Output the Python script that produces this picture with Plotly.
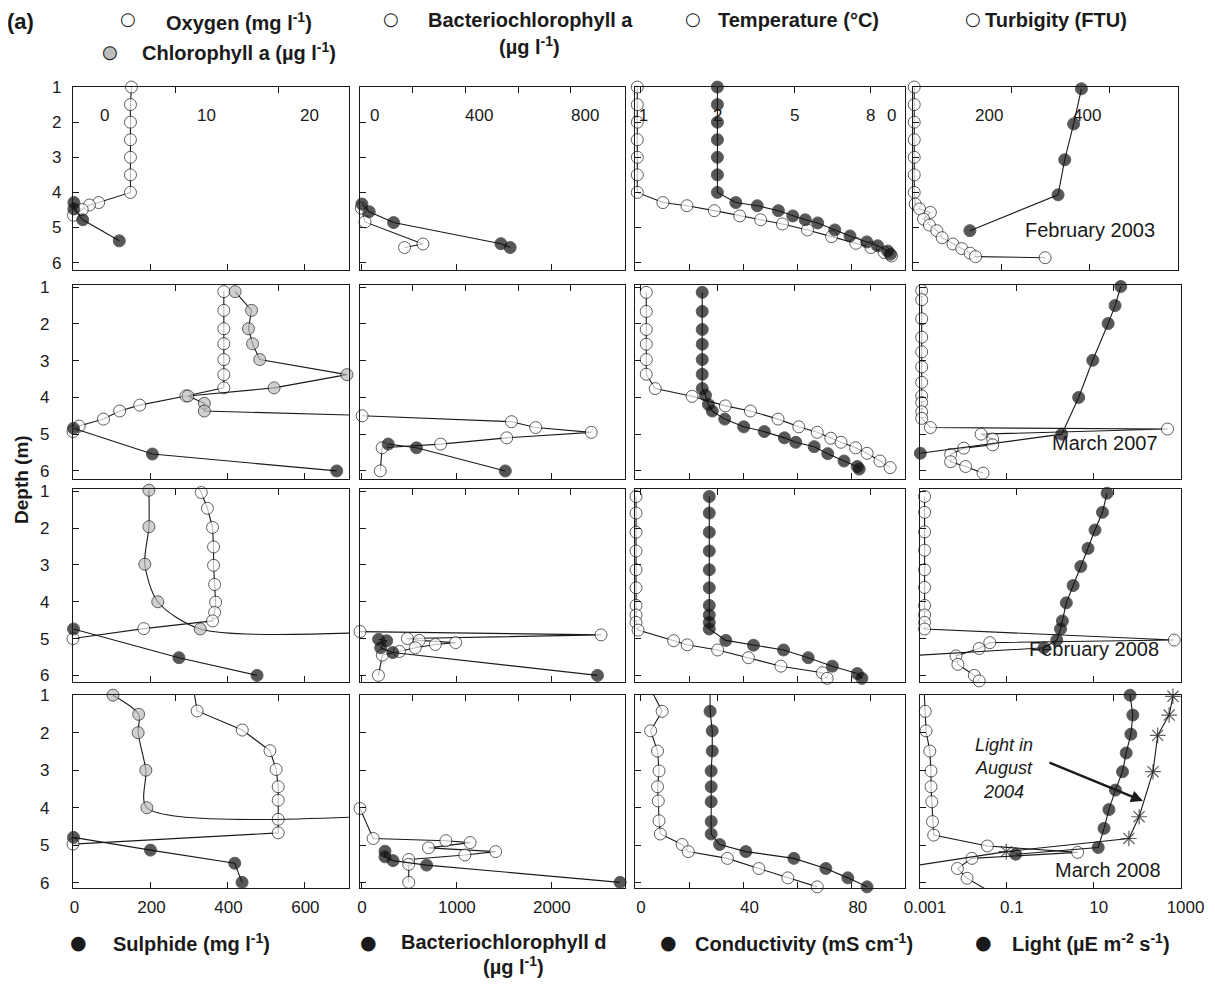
import math
import plotly.graph_objects as go

# page is rendered with an 8px body margin; keep the figure inside the window
OX, OY = 8, 8
FW, FH = 1199, 970

# ---------------- data (depth in m) ----------------
# February 2003
feb03_o2_depth = [1.0, 1.5, 2.0, 2.5, 3.0, 3.5, 4.0, 4.29, 4.36, 4.49, 4.65]
feb03_o2 = [5.7, 5.6, 5.6, 5.6, 5.6, 5.6, 5.6, 2.5, 1.6, 0.9, 0.05]
feb03_sulph_depth = [4.29, 4.47, 4.78, 5.38]
feb03_sulph = [1, 1, 24, 119]
feb03_bchla_depth = [4.45, 4.84, 5.47, 5.57]
feb03_bchla = [5, 19, 239, 169]
feb03_bchld_depth = [4.33, 4.55, 4.86, 5.46, 5.57]
feb03_bchld = [0, 77, 334, 1463, 1561]
feb03_temp_depth = [1.0, 1.5, 2.0, 2.5, 3.0, 3.5, 4.0, 4.29, 4.38, 4.52, 4.67, 4.78, 4.9, 5.07, 5.26, 5.45, 5.57, 5.71, 5.81]
feb03_temp = [-1.13, -1.13, -1.13, -1.13, -1.13, -1.13, -1.13, -0.13, 0.81, 1.88, 2.87, 3.69, 4.54, 5.52, 6.46, 7.41, 8.0, 8.52, 8.8]
feb03_cond_depth = [1.0, 1.5, 2.0, 2.5, 3.0, 3.5, 4.0, 4.29, 4.38, 4.52, 4.67, 4.78, 4.87, 5.07, 5.24, 5.41, 5.52, 5.67, 5.76]
feb03_cond = [30.4, 30.4, 30.4, 30.4, 30.4, 30.4, 30.4, 37.2, 45.1, 52.9, 58.2, 62.8, 67.4, 73.7, 79.3, 85.5, 89.5, 93.2, 94.2]
feb03_turb_depth = [1.0, 1.5, 2.0, 2.5, 3.0, 3.5, 4.0, 4.33, 4.47, 4.57, 4.76, 4.93, 5.09, 5.29, 5.47, 5.6, 5.73, 5.83, 5.86]
feb03_turb = [2, 2, 2, 2, 2, 2, 2, 4, 13, 35, 21, 33, 48, 59, 81, 99, 116, 127, 269]
feb03_light_depth = [1.05, 2.05, 3.07, 4.07, 5.09]
feb03_light = [6.6, 4.4, 2.76, 1.95, 0.0195]

# March 2007
mar07_o2_depth = [1.12, 1.63, 2.13, 2.54, 2.97, 3.38, 3.74, 3.96, 4.21, 4.37, 4.59, 4.78, 4.93]
mar07_o2 = [14.7, 14.7, 14.7, 14.7, 14.7, 14.7, 14.7, 11.0, 6.5, 4.55, 2.97, 0.6, 0.0]
mar07_chla_depth = [1.12, 1.63, 2.13, 2.54, 2.97, 3.38, 3.74, 3.96, 4.16, 4.37, 4.5]
mar07_chla = [15.8, 17.4, 17.1, 17.5, 18.2, 26.7, 19.6, 11.2, 12.8, 12.8, 30.0]
mar07_sulph_depth = [4.84, 5.54, 6.0]
mar07_sulph = [0, 205, 684]
mar07_bchla_depth = [4.5, 4.66, 4.82, 4.95, 5.1, 5.27, 5.37, 6.0]
mar07_bchla = [8, 575, 667, 878, 557, 306, 84, 77]
mar07_bchld_depth = [5.27, 5.37, 6.0]
mar07_bchld = [277, 575, 1510]
mar07_temp_depth = [1.14, 1.66, 2.15, 2.55, 2.97, 3.37, 3.76, 3.97, 4.23, 4.37, 4.59, 4.8, 4.95, 5.11, 5.22, 5.37, 5.52, 5.73, 5.91]
mar07_temp = [-0.78, -0.78, -0.78, -0.78, -0.78, -0.78, -0.43, 1.01, 2.31, 3.29, 4.37, 5.18, 5.9, 6.43, 6.83, 7.4, 7.85, 8.35, 8.75]
mar07_cond_depth = [1.14, 1.66, 2.15, 2.55, 2.97, 3.37, 3.76, 3.94, 4.19, 4.37, 4.59, 4.8, 4.93, 5.1, 5.22, 5.34, 5.53, 5.73, 5.88, 5.95]
mar07_cond = [24.8, 24.8, 24.8, 24.8, 24.8, 24.8, 24.8, 26.0, 27.1, 28.5, 33.1, 40.1, 47.7, 55.1, 59.3, 66.1, 71.1, 77.1, 82.0, 82.7]
mar07_turb_depth = [1.09, 1.34, 1.86, 2.36, 2.76, 3.17, 3.59, 3.96, 4.14, 4.39, 4.57, 4.82, 4.86, 5.0, 5.13, 5.29, 5.38, 5.55, 5.75, 5.88, 6.06]
mar07_turb = [3, 3, 3, 3, 3, 3, 3, 3, 3, 3, 3, 21, 512, 126, 150, 150, 90, 63, 63, 94, 130]
mar07_light_depth = [0.98, 1.5, 1.99, 2.99, 4.0, 5.0, 5.52]
mar07_light = [42, 31, 21.5, 9.5, 4.5, 1.84, 0.00102]

# February 2008
feb08_o2_depth = [0.8, 1.03, 1.46, 1.98, 2.51, 3.01, 3.53, 4.01, 4.29, 4.52, 4.73, 5.0]
feb08_o2 = [12.0, 12.5, 13.1, 13.6, 13.7, 13.7, 13.8, 13.9, 13.8, 13.6, 6.9, 0.0]
feb08_chla_depth = [0.97, 1.96, 2.98, 4.0, 4.74, 4.82]
feb08_chla = [7.4, 7.4, 7.0, 8.26, 12.4, 30.0]
feb08_sulph_depth = [4.74, 5.52, 6.0]
feb08_sulph = [0, 274, 477]
feb08_bchla_depth = [4.81, 4.9, 5.0, 5.05, 5.11, 5.16, 5.25, 5.35, 5.45, 6.0]
feb08_bchla = [0, 915, 180, 225, 363, 286, 210, 150, 85, 70]
feb08_bchld_depth = [5.02, 5.06, 5.25, 5.38, 6.0]
feb08_bchld = [176, 261, 198, 325, 2480]
feb08_temp_depth = [1.14, 1.59, 2.11, 2.62, 3.13, 3.62, 4.1, 4.36, 4.56, 4.77, 5.06, 5.17, 5.31, 5.52, 5.75, 5.93, 6.08]
feb08_temp = [-1.18, -1.18, -1.18, -1.18, -1.18, -1.18, -1.18, -1.18, -1.18, -1.1, 0.29, 0.82, 2.01, 3.21, 4.48, 6.1, 6.29]
feb08_cond_depth = [1.14, 1.59, 2.11, 2.62, 3.13, 3.62, 4.1, 4.36, 4.56, 4.74, 5.05, 5.18, 5.31, 5.52, 5.75, 5.95, 6.08]
feb08_cond = [27.4, 27.4, 27.4, 27.4, 27.4, 27.4, 27.4, 27.4, 27.4, 27.4, 33.5, 43.7, 54.8, 63.9, 72.8, 82.0, 83.7]
feb08_turb_depth = [1.14, 1.57, 2.1, 2.6, 3.13, 3.61, 4.1, 4.36, 4.56, 4.74, 5.04, 5.11, 5.27, 5.47, 5.7, 6.0, 6.15]
feb08_turb = [9, 9, 9, 9, 9, 9, 9, 9, 9, 9, 526, 144, 122, 74, 78, 112, 122]
feb08_light_depth = [1.05, 1.57, 2.05, 2.55, 3.04, 3.56, 4.03, 4.52, 4.74, 5.04, 5.25, 5.47]
feb08_light = [20.3, 15.9, 10.7, 7.4, 5.05, 3.36, 2.34, 1.9, 1.72, 1.41, 0.72, 0.0005]

# March 2008
mar08_o2_depth = [0.92, 1.42, 1.93, 2.48, 2.98, 3.44, 3.8, 4.31, 4.67, 4.97]
mar08_o2 = [11.8, 12.1, 16.5, 19.2, 19.8, 20.0, 20.0, 20.0, 20.0, 0.0]
mar08_chla_depth = [1.0, 1.51, 2.0, 3.0, 4.0, 4.24]
mar08_chla = [3.9, 6.4, 6.35, 7.1, 7.2, 28.0]
mar08_sulph_depth = [4.79, 5.13, 5.48, 5.99]
mar08_sulph = [0, 200, 419, 438]
mar08_bchla_depth = [4.02, 4.82, 4.88, 4.93, 5.07, 5.17, 5.26, 5.38, 5.51, 5.99]
mar08_bchla = [0, 50, 326, 418, 260, 515, 398, 185, 185, 185]
mar08_bchld_depth = [5.16, 5.31, 5.41, 5.53, 5.99]
mar08_bchld = [243, 243, 328, 681, 2718]
mar08_temp_depth = [0.85, 1.43, 1.95, 2.49, 3.02, 3.44, 3.82, 4.35, 4.7, 4.98, 5.17, 5.35, 5.62, 5.87, 6.11]
mar08_temp = [-0.6, -0.16, -0.61, -0.34, -0.28, -0.34, -0.31, -0.28, -0.23, 0.62, 0.86, 2.39, 3.62, 4.75, 5.9]
mar08_cond_depth = [0.85, 1.43, 1.95, 2.49, 3.02, 3.44, 3.84, 4.37, 4.7, 4.98, 5.17, 5.35, 5.62, 5.87, 6.11]
mar08_cond = [27.7, 27.7, 28.5, 28.5, 28.1, 28.1, 28.1, 28.1, 28.1, 31.2, 40.9, 58.6, 70.4, 78.5, 85.6]
mar08_turb_depth = [0.85, 1.43, 1.95, 2.49, 3.02, 3.44, 3.84, 4.37, 4.73, 5.02, 5.19, 5.35, 5.62, 5.88, 6.15]
mar08_turb = [8, 10.4, 12, 19.8, 22.3, 22.3, 24, 25.4, 27.9, 139, 326, 107, 77, 97, 133]
mar08_light_depth = [1.0, 1.53, 2.04, 2.54, 3.04, 3.53, 4.05, 4.55, 5.06, 5.24]
mar08_light = [68.7, 79.6, 71.8, 56, 46, 31.6, 22.4, 17.3, 12.7, 0.16]
aug04_light_depth = [1.03, 1.53, 2.07, 3.04, 4.24, 4.82, 5.17, 5.53]
aug04_light = [667, 545, 297, 232, 111, 64.6, 0.097, 0.00093]

month_labels = ["February 2003", "March 2007", "February 2008", "March 2008"]
depth_ticks = [1, 2, 3, 4, 5, 6]

top_tickvals = [[0, 10, 20], [0, 400, 800], [-1, 2, 5, 8], [0, 200, 400]]
top_ticktext = [["0", "10", "20"], ["0", "400", "800"], ["-1", "2", "5", "8"], ["0", "200", "400"]]
top_minor = [[], [200, 600], [], []]
bot_tickvals = [[0, 200, 400, 600], [0, 1000, 2000], [0, 40, 80], [0.001, 0.1, 10, 1000]]
bot_ticktext = [["0", "200", "400", "600"], ["0", "1000", "2000"], ["0", "40", "80"], ["0.001", "0.1", "10", "1000"]]
bot_minor = [[], [], [20, 60], []]

# ---------------- layout geometry (window pixels) ----------------
ROWS = [
    dict(top=86.7, bottom=270, dmin=0.99, dmax=6.21, ystand=7),
    dict(top=285, bottom=479, dmin=0.94, dmax=6.22, ystand=19),
    dict(top=489, bottom=682, dmin=0.936, dmax=6.18, ystand=19),
    dict(top=695, bottom=888, dmin=0.995, dmax=6.14, ystand=19),
]
COLS = [
    [(73, 349), (360, 625), (635, 905), (913, 1178)],
    [(73, 349), (360, 625), (635, 905), (920, 1181)],
    [(73, 349), (360, 625), (635, 905), (920, 1181)],
    [(73, 349), (360, 625), (635, 905), (920, 1181)],
]
TOP_RANGE = [[0, 26.9], [0, 1006], [-1.22, 9.33], [-0.5, 540]]
BOT_RANGE = [[-1.3, 716], [-20, 2770], [0, 99.6], [-3, 3.01]]
BOT_LOG = [False, False, False, True]
TOP_SHIFT = [31, 14, 0, -22]
BOT_SHIFT = [1, 0, 6, 5]

data_rows = [
    {0: [("top", feb03_o2_depth, feb03_o2, "white"), ("bot", feb03_sulph_depth, feb03_sulph, "black")],
     1: [("top", feb03_bchla_depth, feb03_bchla, "white"), ("bot", feb03_bchld_depth, feb03_bchld, "black")],
     2: [("top", feb03_temp_depth, feb03_temp, "white"), ("bot", feb03_cond_depth, feb03_cond, "black")],
     3: [("top", feb03_turb_depth, feb03_turb, "white"), ("bot", feb03_light_depth, feb03_light, "black")]},
    {0: [("top", mar07_o2_depth, mar07_o2, "white"), ("top", mar07_chla_depth, mar07_chla, "gray"),
         ("bot", mar07_sulph_depth, mar07_sulph, "black")],
     1: [("top", mar07_bchla_depth, mar07_bchla, "white"), ("bot", mar07_bchld_depth, mar07_bchld, "black")],
     2: [("top", mar07_temp_depth, mar07_temp, "white"), ("bot", mar07_cond_depth, mar07_cond, "black")],
     3: [("top", mar07_turb_depth, mar07_turb, "white"), ("bot", mar07_light_depth, mar07_light, "black")]},
    {0: [("top", feb08_o2_depth, feb08_o2, "white"), ("top", feb08_chla_depth, feb08_chla, "gray"),
         ("bot", feb08_sulph_depth, feb08_sulph, "black")],
     1: [("top", feb08_bchla_depth, feb08_bchla, "white"), ("bot", feb08_bchld_depth, feb08_bchld, "black")],
     2: [("top", feb08_temp_depth, feb08_temp, "white"), ("bot", feb08_cond_depth, feb08_cond, "black")],
     3: [("top", feb08_turb_depth, feb08_turb, "white"), ("bot", feb08_light_depth, feb08_light, "black")]},
    {0: [("top", mar08_o2_depth, mar08_o2, "white"), ("top", mar08_chla_depth, mar08_chla, "gray"),
         ("bot", mar08_sulph_depth, mar08_sulph, "black")],
     1: [("top", mar08_bchla_depth, mar08_bchla, "white"), ("bot", mar08_bchld_depth, mar08_bchld, "black")],
     2: [("top", mar08_temp_depth, mar08_temp, "white"), ("bot", mar08_cond_depth, mar08_cond, "black")],
     3: [("top", mar08_turb_depth, mar08_turb, "white"), ("bot", mar08_light_depth, mar08_light, "black"),
         ("bot", aug04_light_depth, aug04_light, "star")]},
]

INK = "#1a1a1a"
REG = "Liberation Sans, Arial, sans-serif"
TICKFONT = dict(family=REG, size=17, color=INK)
BOLD = "Liberation Sans, Arial, sans-serif"

fig = go.Figure()
layout = {}
annotations = []


def px_x(v):
    return (v - OX) / FW


def px_y(v):
    return 1 - (v - OY) / FH


def text(x, y, t, size=21, bold=True, anchor="left", color=INK, italic=False, fam=None, angle=0,
         vanchor="middle"):
    s = f"<i>{t}</i>" if italic else t
    annotations.append(dict(xref="paper", yref="paper", x=px_x(x), y=px_y(y), text=s, showarrow=False,
                            xanchor=anchor, yanchor=vanchor, textangle=angle, borderpad=0,
                            font=dict(family=fam or BOLD, size=size, color=color,
                                      weight="bold" if bold else "normal")))


def minor_ticks(vals):
    if not vals:
        return dict(ticks="")
    return dict(tickmode="array", tickvals=vals, ticks="inside", ticklen=6, tickwidth=1, tickcolor=INK)


for r, row in enumerate(ROWS):
    for c in range(4):
        k = r * 4 + c
        xt = 2 * k + 1          # top axis (base)
        xb = 2 * k + 2          # bottom axis (overlay, drawn above)
        yk = k + 1
        x0, x1 = COLS[r][c]
        dom_x = [px_x(x0), px_x(x1)]
        dom_y = [px_y(row["bottom"]), px_y(row["top"])]
        common = dict(showgrid=False, zeroline=False, showline=True, linecolor=INK, linewidth=1.3,
                      ticks="inside", ticklen=6, tickwidth=1, tickcolor=INK, tickfont=TICKFONT,
                      tickmode="array", automargin=False)
        top_ax = dict(common, domain=dom_x, anchor=f"y{yk}", side="top", range=TOP_RANGE[c],
                      tickvals=top_tickvals[c], ticktext=top_ticktext[c], showticklabels=False,
                      minor=minor_ticks(top_minor[c]))
        bot_ax = dict(common, anchor=f"y{yk}", side="bottom", overlaying=f"x{xt}",
                      range=BOT_RANGE[c], type="log" if BOT_LOG[c] else "linear",
                      tickvals=bot_tickvals[c], ticktext=bot_ticktext[c],
                      showticklabels=(r == 3), ticklabelshift=BOT_SHIFT[c], ticklabelstandoff=3,
                      ticklabeloverflow="allow", minor=minor_ticks(bot_minor[c]))
        y_ax = dict(common, domain=dom_y, anchor=f"x{xt}", range=[row["dmax"], row["dmin"]],
                    tickvals=depth_ticks, ticktext=[str(t) for t in depth_ticks],
                    showticklabels=(c == 0), mirror=True, ticklabelstandoff=row["ystand"])
        layout[f"xaxis{xt}"] = top_ax
        layout[f"xaxis{xb}"] = bot_ax
        layout[f"yaxis{yk}"] = y_ax

        # top-axis tick labels of the first row are printed inside the panel
        if r == 0:
            lo, hi = TOP_RANGE[c]
            for v, t in zip(top_tickvals[c], top_ticktext[c]):
                xp = x0 + (v - lo) / (hi - lo) * (x1 - x0) + TOP_SHIFT[c]
                text(xp, 115, t, size=17, bold=False, anchor="center", fam=REG)

        for side, depth, vals, kind in data_rows[r][c]:
            rng = TOP_RANGE[c] if side == "top" else BOT_RANGE[c]
            logx = (side == "bot" and BOT_LOG[c])
            sizes = []
            for d, v in zip(depth, vals):
                xv = math.log10(v) if logx else v
                ok = rng[0] <= xv <= rng[1] and row["dmin"] - 0.01 <= d <= row["dmax"]
                sizes.append((13 if kind == "star" else 12) if ok else 0)
            if kind == "star":
                marker = dict(symbol="asterisk-open", size=sizes, line=dict(color=INK, width=1.2))
            else:
                fill = {"white": "#ffffff", "gray": "#bdbdbd", "black": "#111111"}[kind]
                marker = dict(symbol="circle", size=sizes, color=fill, line=dict(color=INK, width=1))
            shape = "spline" if (kind == "gray" and r >= 2) else "linear"
            fig.add_trace(go.Scatter(
                x=vals, y=depth, mode="lines+markers",
                xaxis=f"x{xt if side == 'top' else xb}", yaxis=f"y{yk}",
                line=dict(color=INK, width=1.1, shape=shape, smoothing=0.8),
                marker=marker, cliponaxis=False, hoverinfo="skip"))

SYM = "DejaVu Sans, sans-serif"
text(20, 8, "(a)", size=22, anchor="center", vanchor="top")
# top legend
text(128, 19, "○", size=18, bold=False, anchor="center", fam=SYM)
text(165, 8, "Oxygen (mg l<sup>-1</sup>)", size=20, vanchor="top")
text(110, 52, "●", size=18, bold=False, anchor="center", color="#bdbdbd", fam=SYM)
text(110, 52, "○", size=18, bold=False, anchor="center", fam=SYM)
text(141, 52, "Chlorophyll a (µg l<sup>-1</sup>)", size=20)
text(391, 19, "○", size=18, bold=False, anchor="center", fam=SYM)
text(427, 8, "Bacteriochlorophyll a", size=20, vanchor="top")
text(529, 46, "(µg l<sup>-1</sup>)", size=20, anchor="center")
text(693, 19, "○", size=18, bold=False, anchor="center", fam=SYM)
text(717, 8, "Temperature (°C)", size=20, vanchor="top")
text(973, 19, "○", size=18, bold=False, anchor="center", fam=SYM)
text(984, 8, "Turbigity (FTU)", size=20, vanchor="top")
# bottom legend
text(78, 942, "●", size=19, bold=False, anchor="center", fam=SYM)
text(112, 942, "Sulphide (mg l<sup>-1</sup>)", size=20)
text(368, 942, "●", size=19, bold=False, anchor="center", fam=SYM)
text(400, 942, "Bacteriochlorophyll d", size=20)
text(513, 965, "(µg l<sup>-1</sup>)", size=20, anchor="center")
text(668, 942, "●", size=19, bold=False, anchor="center", fam=SYM)
text(694, 942, "Conductivity (mS cm<sup>-1</sup>)", size=20)
text(983, 942, "●", size=19, bold=False, anchor="center", fam=SYM)
text(1011, 942, "Light (µE m<sup>-2</sup> s<sup>-1</sup>)", size=20)
# axis title
text(21, 480, "Depth (m)", size=19, anchor="center", angle=-90)
# month labels
text(1090, 230, month_labels[0], size=20, bold=False, anchor="center", fam=REG)
text(1105, 443, month_labels[1], size=20, bold=False, anchor="center", fam=REG)
text(1094, 649, month_labels[2], size=20, bold=False, anchor="center", fam=REG)
text(1108, 870, month_labels[3], size=20, bold=False, anchor="center", fam=REG)
# light in August 2004 note
text(1004, 768, "Light in<br>August<br>2004", size=18, bold=False, anchor="center", fam=REG, italic=True)
annotations.append(dict(xref="paper", yref="paper", x=px_x(1143), y=px_y(801), ax=-95, ay=-39,
                        text="", showarrow=True, arrowhead=2, arrowsize=1, arrowwidth=2.4,
                        arrowcolor=INK))

layout.update(width=FW, height=FH, margin=dict(l=0, r=0, t=0, b=0), autosize=False,
              paper_bgcolor="white", plot_bgcolor="white", showlegend=False,
              annotations=annotations)
fig.update_layout(**layout)
fig.write_html("out.html")
